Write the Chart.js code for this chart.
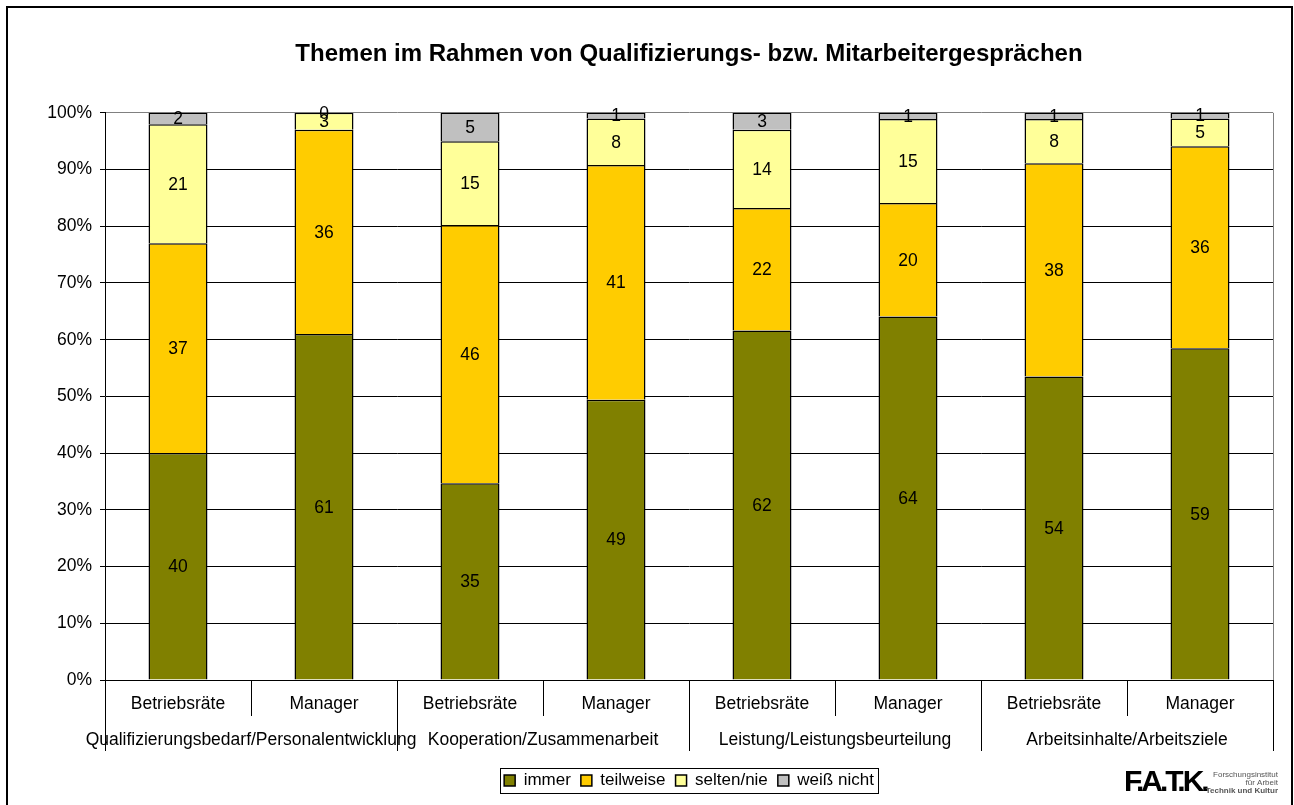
<!DOCTYPE html>
<html>
<head>
<meta charset="utf-8">
<script src="https://cdn.jsdelivr.net/npm/chart.js@4/dist/chart.umd.min.js"></script>
<style>
  html, body { margin: 0; padding: 0; background: #fff; }
  #wrap { width: 1294px; height: 805px; position: relative; }
</style>
</head>
<body>
<div id="wrap"><canvas id="chart" width="1294" height="805"></canvas></div>
<script>
// Categories and groups
const categories = ['Betriebsräte', 'Manager', 'Betriebsräte', 'Manager', 'Betriebsräte', 'Manager', 'Betriebsräte', 'Manager'];
const groups = ['Qualifizierungsbedarf/Personalentwicklung', 'Kooperation/Zusammenarbeit', 'Leistung/Leistungsbeurteilung', 'Arbeitsinhalte/Arbeitsziele'];

// Series values (percent)
const immer      = [40, 61, 34.7, 49.4, 61.6, 64.1, 53.5, 58.5];
const teilweise  = [37, 36, 45.5, 41.4, 21.6, 20.0, 37.6, 35.6];
const seltenNie  = [21,  3, 14.8,  8.2, 13.8, 14.8,  7.8,  4.9];
const weissNicht = [ 2,  0,  5.0,  1.0,  3.0,  1.1,  1.1,  1.0];

const seriesNames = ['immer', 'teilweise', 'selten/nie', 'weiß nicht'];
const seriesColors = ['#808000', '#FFCC00', '#FFFF99', '#C0C0C0'];

const FONT = '"Liberation Sans", Arial, sans-serif';
const SIZE = 17.5;

// Writes the rounded values in the middle of each segment
const valueLabels = {
    id: 'valueLabels',
    afterDatasetsDraw(chart) {
        const ctx = chart.ctx;
        ctx.save();
        ctx.font = SIZE + 'px ' + FONT;
        ctx.fillStyle = '#000';
        ctx.textAlign = 'center';
        ctx.textBaseline = 'middle';
        chart.data.datasets.forEach((ds, i) => {
            const meta = chart.getDatasetMeta(i);
            meta.data.forEach((bar, j) => {
                const y = (bar.y + bar.base) / 2;
                ctx.fillText(String(Math.round(ds.data[j])), bar.x, y + 1);
            });
        });
        ctx.restore();
    }
};

// Group labels, divider lines, legend box, logo and frame
const decorations = {
    id: 'decorations',
    afterDraw(chart) {
        const ctx = chart.ctx;
        const area = chart.chartArea;
        const x = chart.scales.x;
        const half = (x.getPixelForValue(1) - x.getPixelForValue(0)) / 2;
        ctx.save();

        // right plot border
        ctx.strokeStyle = '#808080';
        ctx.lineWidth = 1;
        ctx.beginPath();
        ctx.moveTo(area.right + 0.5, area.top);
        ctx.lineTo(area.right + 0.5, area.bottom);
        ctx.stroke();

        // category dividers
        ctx.strokeStyle = '#000';
        for (let i = 0; i <= categories.length; i++) {
            const px = Math.round(x.getPixelForValue(0) - half + i * 2 * half) + 0.5;
            const len = (i % 2 === 0) ? 71 : 36;
            ctx.beginPath();
            ctx.moveTo(px, area.bottom);
            ctx.lineTo(px, area.bottom + len);
            ctx.stroke();
        }

        // group labels
        ctx.font = SIZE + 'px ' + FONT;
        ctx.fillStyle = '#000';
        ctx.textAlign = 'center';
        ctx.textBaseline = 'middle';
        groups.forEach((g, k) => {
            const cx = x.getPixelForValue(2 * k) + half;
            ctx.fillText(g, cx, area.bottom + 60);
        });

        // legend frame
        const boxes = chart.legend.legendHitBoxes;
        if (boxes && boxes.length) {
            const left = Math.min(...boxes.map(b => b.left));
            const right = Math.max(...boxes.map(b => b.left + b.width));
            const top = Math.min(...boxes.map(b => b.top));
            const bottom = Math.max(...boxes.map(b => b.top + b.height));
            ctx.strokeStyle = '#000';
            ctx.strokeRect(Math.round(left - 4) + 0.5, Math.round(top - 4) + 0.5,
                Math.round(right - left + 8), Math.round(bottom - top + 8));
        }

        // logo
        ctx.fillStyle = '#000';
        ctx.textAlign = 'left';
        ctx.textBaseline = 'alphabetic';
        ctx.font = 'bold 30px ' + FONT;
        ctx.letterSpacing = '-3px';
        ctx.fillText('F.A.T.K.', 1124, 791);
        ctx.letterSpacing = '0px';
        ctx.textAlign = 'right';
        ctx.fillStyle = '#555';
        ctx.font = '8px ' + FONT;
        ctx.fillText('Forschungsinstitut', 1278, 777);
        ctx.fillText('für Arbeit', 1278, 785);
        ctx.font = 'bold 8px ' + FONT;
        ctx.fillText('Technik und Kultur', 1278, 793);

        // outer frame
        ctx.strokeStyle = '#000';
        ctx.lineWidth = 2;
        ctx.strokeRect(7, 7, 1285, 900);
        ctx.restore();
    }
};

const datasets = [immer, teilweise, seltenNie, weissNicht].map((values, i) => ({
    label: seriesNames[i],
    data: values,
    backgroundColor: seriesColors[i],
    borderColor: '#000',
    borderWidth: 1.5,
    barPercentage: 0.404,
    categoryPercentage: 1
}));

new Chart(document.getElementById('chart'), {
    type: 'bar',
    data: { labels: categories, datasets: datasets },
    plugins: [valueLabels, decorations],
    options: {
        responsive: false,
        animation: false,
        layout: { padding: { left: 0, right: 21, top: 0, bottom: 6 } },
        scales: {
            x: {
                stacked: true,
                grid: { display: false },
                border: { display: true, color: '#000', width: 1 },
                ticks: { color: '#000', font: { family: FONT, size: SIZE }, padding: 6, maxRotation: 0, autoSkip: false },
                afterFit(scale) { scale.height = 82; }
            },
            y: {
                stacked: true,
                min: 0,
                max: 100,
                border: { display: true, color: '#000', width: 1 },
                grid: {
                    color: c => (c.tick && c.tick.value === 100) ? '#808080' : '#000',
                    tickColor: '#000',
                    tickLength: 5,
                    lineWidth: 1
                },
                ticks: {
                    stepSize: 10,
                    color: '#000',
                    padding: 8,
                    font: { family: FONT, size: SIZE },
                    callback: v => v + '%'
                },
                afterFit(scale) { scale.width = 105; }
            }
        },
        plugins: {
            title: {
                display: true,
                text: 'Themen im Rahmen von Qualifizierungs- bzw. Mitarbeitergesprächen',
                color: '#000',
                fullSize: false,
                font: { family: FONT, size: 24, weight: 'bold' },
                padding: { top: 40, bottom: 44 }
            },
            legend: {
                position: 'bottom',
                fullSize: false,
                labels: {
                    color: '#000',
                    font: { family: FONT, size: 17 },
                    boxWidth: 11,
                    boxHeight: 11,
                    padding: 10
                }
            },
            tooltip: { enabled: false }
        }
    }
});
</script>
</body>
</html>
